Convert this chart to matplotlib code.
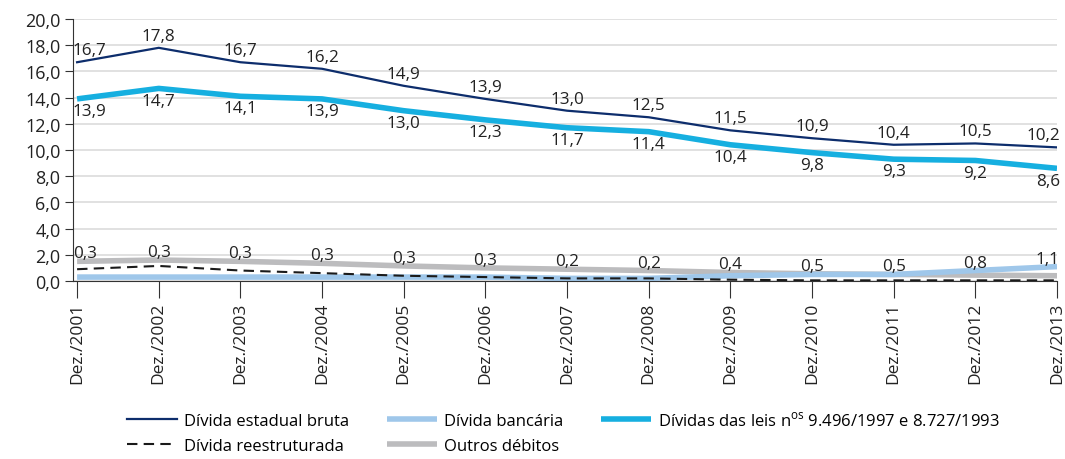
import matplotlib
matplotlib.use("Agg")
import matplotlib.pyplot as plt

plt.rcParams['font.family'] = ['Open Sans', 'DejaVu Sans']
plt.rcParams['mathtext.fontset'] = 'custom'
plt.rcParams['mathtext.rm'] = 'Open Sans'

categories = ["Dez./2001", "Dez./2002", "Dez./2003", "Dez./2004", "Dez./2005", "Dez./2006",
              "Dez./2007", "Dez./2008", "Dez./2009", "Dez./2010", "Dez./2011", "Dez./2012", "Dez./2013"]
bruta = [16.7, 17.8, 16.7, 16.2, 14.9, 13.9, 13.0, 12.5, 11.5, 10.9, 10.4, 10.5, 10.2]
bancaria = [0.3, 0.3, 0.3, 0.3, 0.3, 0.3, 0.2, 0.2, 0.4, 0.5, 0.5, 0.8, 1.1]
leis = [13.9, 14.7, 14.1, 13.9, 13.0, 12.3, 11.7, 11.4, 10.4, 9.8, 9.3, 9.2, 8.6]
reestruturada = [0.9, 1.15, 0.8, 0.6, 0.4, 0.3, 0.2, 0.2, 0.1, 0.05, 0.05, 0.05, 0.05]
outros = [1.5, 1.6, 1.5, 1.35, 1.15, 1.0, 0.9, 0.8, 0.65, 0.55, 0.5, 0.45, 0.4]
yticks = [0, 2, 4, 6, 8, 10, 12, 14, 16, 18, 20]

c_bruta = '#0d2d6c'
c_banc = '#9fc7ea'
c_leis = '#16afe0'
c_outros = '#bcbcbe'

fig = plt.figure(figsize=(10.65, 4.6), dpi=100)
ax = fig.add_axes([73/1065, 1 - 282/460, (1057 - 73)/1065, (282 - 20)/460])

x = list(range(len(categories)))
ax.plot(x, outros, color=c_outros, lw=4, label='Outros débitos', zorder=2, solid_capstyle='butt')
ax.plot(x, reestruturada, color='#1a1a1a', lw=1.5, ls=(0, (5, 3)), label='Dívida reestruturada', zorder=3)
ax.plot(x, bancaria, color=c_banc, lw=4, label='Dívida bancária', zorder=2.5, solid_capstyle='butt')
ax.plot(x, leis, color=c_leis, lw=4, label='Dívidas das leis n$^{\\mathrm{os}}$ 9.496/1997 e 8.727/1993', zorder=3, solid_capstyle='butt')
ax.plot(x, bruta, color=c_bruta, lw=1.6, label='Dívida estadual bruta', zorder=4)

fmt = lambda v: f"{v:.1f}".replace('.', ',')
fs = 12.3
n = len(x)
def ha_for(i):
    return 'left' if i == 0 else ('right' if i == n - 1 else 'center')
def dx_for(i):
    return -3 if i == 0 else (2 if i == n - 1 else 0)

for i, v in enumerate(bruta):
    ax.annotate(fmt(v), (x[i], v), xytext=(dx_for(i), 3), textcoords='offset points', ha=ha_for(i), va='bottom', fontsize=fs, color='#222222')
for i, v in enumerate(leis):
    ax.annotate(fmt(v), (x[i], v), xytext=(dx_for(i), -3), textcoords='offset points', ha=ha_for(i), va='top', fontsize=fs, color='#222222')
for i, (v, o) in enumerate(zip(bancaria, outros)):
    top = max(v, o)
    ax.annotate(fmt(v), (x[i], top), xytext=(dx_for(i), 0), textcoords='offset points', ha=ha_for(i), va='bottom', fontsize=fs, color='#222222')

ax.set_xlim(0 - 0.05, n - 1 + 0.0)
ax.set_ylim(0, 20)
ax.set_yticks(yticks)
ax.set_yticklabels([fmt(v) for v in yticks], fontsize=13, color='#222222')
ax.set_xticks(x)
ax.set_xticklabels(categories, rotation=90, fontsize=12.5, color='#222222')
ax.grid(axis='y', color='#dcdcdc', lw=1.2)
ax.set_axisbelow(True)
for s in ['top', 'right']:
    ax.spines[s].set_visible(False)
ax.spines['left'].set_color('#333333')
ax.spines['bottom'].set_color('#333333')
ax.tick_params(axis='y', length=6, color='#333333', pad=3)
ax.tick_params(axis='x', length=12, color='#333333', pad=3)

handles, labels = ax.get_legend_handles_labels()
order = ['Dívida estadual bruta', 'Dívida reestruturada', 'Dívida bancária', 'Outros débitos',
         'Dívidas das leis n$^{\\mathrm{os}}$ 9.496/1997 e 8.727/1993']
hmap = dict(zip(labels, handles))
leg = fig.legend([hmap[l] for l in order], order, loc='lower left', bbox_to_anchor=(112/1065, -0.022),
                 ncol=3, frameon=False, fontsize=12, handlelength=3.0, columnspacing=2.3,
                 handletextpad=0.4, labelspacing=0.55)
fig.savefig('out.png', dpi=100)
